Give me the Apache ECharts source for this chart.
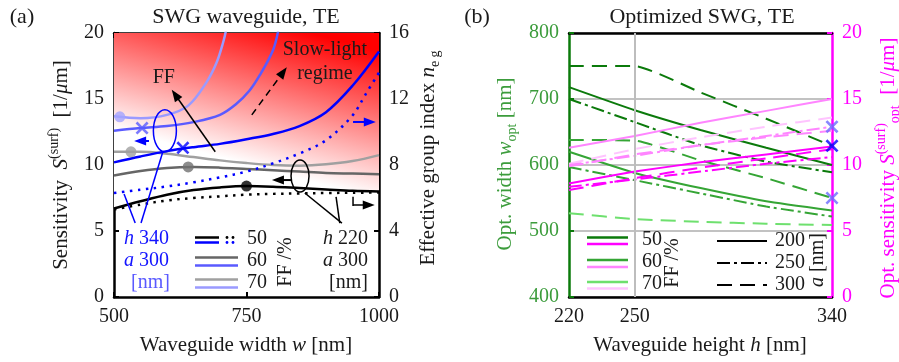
<!DOCTYPE html>
<html><head><meta charset="utf-8">
<script src="https://cdn.jsdelivr.net/npm/echarts@6/dist/echarts.min.js"></script>
<style>html,body{margin:0;padding:0;background:#fff}#c{width:899px;height:362px}</style>
</head><body><div id="c"></div>
<script>
// ---------------- DATA (a) ----------------
const widthW      = [500, 550, 600, 650, 700, 750, 800, 850, 900, 950, 1000];
const sH220FF50   = [6.7, 7.25, 7.75, 8.1, 8.3, 8.4, 8.35, 8.25, 8.15, 8.05, 8.0];
const sH220FF60   = [9.2, 9.55, 9.78, 9.85, 9.8, 9.7, 9.6, 9.5, 9.4, 9.35, 9.3];
const sH220FF70   = [11.0, 11.0, 10.85, 10.6, 10.35, 10.15, 10.0, 9.95, 10.05, 10.3, 10.75];
const nH220FF50   = [5.3, 5.6, 5.85, 6.0, 6.1, 6.2, 6.25, 6.28, 6.3, 6.32, 6.33];
const sH340FF50   = [10.2, 10.65, 11.05, 11.35, 11.6, 11.95, 12.35, 12.95, 14.0, 16.0, 18.6];
const widthNB     = [500, 550, 600, 650, 700, 750, 800, 850, 900, 950, 975, 1000];
const nH340FF50   = [6.3, 6.5, 6.7, 6.95, 7.25, 7.6, 8.1, 8.7, 9.5, 11.0, 12.3, 13.6];
const widthB60    = [500, 550, 600, 650, 700, 730, 755, 775, 800, 810];
const sH340FF60   = [12.6, 12.8, 12.95, 13.25, 13.8, 14.6, 15.6, 16.8, 18.7, 20.2];
const widthB70    = [500, 550, 600, 640, 675, 694, 706, 712];
const sH340FF70   = [13.7, 13.55, 13.8, 14.5, 16.3, 17.8, 19.3, 20.3];
// optimum markers (a)
const dotW  = [750, 640, 532, 511];
const dotS  = [8.4, 9.85, 11.0, 13.65];
const crossW = [630, 553];
const crossS = [11.3, 12.8];
// tick labels
const ticksW = [500, 750, 1000];
const ticksS = [0, 5, 10, 15, 20];
const ticksN = [0, 4, 8, 12, 16];

// ---------------- DATA (b) ----------------
const heightH      = [220, 250, 280, 310, 340];
const wOptFF50a200 = [718, 683, 653, 626, 600];
const wOptFF50a250 = [700, 665, 630, 605, 589];
const wOptFF50a300 = [750, 750, 710, 670, 629];
const wOptFF60a200 = [620, 588, 565, 545, 531];
const wOptFF60a250 = [597, 577, 557, 537, 522];
const wOptFF60a300 = [638, 637, 607, 580, 550];
const wOptFF70a300 = [527, 518, 514, 511, 509];
const sOptFF50a200 = [8.6, 9.5, 10.2, 10.8, 11.4];
const sOptFF50a250 = [8.35, 8.9, 9.5, 10.1, 10.6];
const sOptFF50a300 = [8.1, 9.0, 9.8, 10.5, 11.2];
const sOptFF60a200 = [11.3, 12.2, 13.2, 14.1, 15.0];
const sOptFF60a250 = [10.0, 10.7, 11.5, 12.2, 12.9];
const sOptFF60a300 = [9.9, 10.8, 11.5, 12.1, 12.6];
const sOptFF70a300 = [10.1, 11.2, 12.1, 12.9, 13.6];
const ticksH = [220, 250, 340];
const markH = 340;
const markW50 = 629, markW60 = 550, markS60 = 12.9;

// ---------------- STYLE ----------------
const FONT = '"Liberation Serif","Times New Roman",serif';
const TXT = '#1a1a1a';
const zip = (xs, ys) => xs.map((x, i) => [x, ys[i]]);
const crossPath = 'path://M-1,-1.4L0,-0.4L1,-1.4L1.4,-1L0.4,0L1.4,1L1,1.4L0,0.4L-1,1.4L-1.4,1L-0.4,0L-1.4,-1Z';

function lineS(name, x, y, xi, yi, color, width, type, extra) {
  return Object.assign({
    name, type: 'line', xAxisIndex: xi, yAxisIndex: yi, data: zip(x, y),
    symbol: 'none', smooth: xi === 0 ? 0.35 : 0.15, clip: true,
    lineStyle: { color, width, type: type || 'solid', cap: 'butt' }
  }, extra || {});
}
const DASH = [15, 8], DASHDOT = [13, 4, 3, 4], DOT = [2.5, 5.5];
const green1 = '#0b7a0b', green2 = '#35a535', green3 = '#6ee06e';
const mag1 = '#ff00ff', mag2 = '#ff85ff', mag3 = '#ffc4ff';

const axisLabel = { fontFamily: FONT, fontSize: 20, color: TXT, formatter: v => String(v) };

const series = [
  // (a)
  lineS('h220 FF50 S', widthW, sH220FF50, 0, 0, '#000', 2.5, 'solid', {
    areaStyle: { origin: 'end', opacity: 1,
      color: new echarts.graphic.LinearGradient(0.06, 0.57, 0.2, -0.22,
        [{ offset: 0, color: '#ffffff' }, { offset: 1, color: '#ff0000' }]) }
  }),
  lineS('h220 FF50 neg', widthW, nH220FF50, 0, 1, '#000', 2.5, DOT),
  lineS('h220 FF60 S', widthW, sH220FF60, 0, 0, '#666666', 2.5),
  lineS('h220 FF70 S', widthW, sH220FF70, 0, 0, '#a0a0a0', 2.5),
  lineS('h340 FF50 neg', widthNB, nH340FF50, 0, 1, '#0000ff', 2.5, DOT),
  lineS('h340 FF50 S', widthW, sH340FF50, 0, 0, '#0000ff', 2.5),
  lineS('h340 FF60 S', widthB60, sH340FF60, 0, 0, '#5a5aff', 2.5),
  lineS('h340 FF70 S', widthB70, sH340FF70, 0, 0, '#9a9aff', 2.5),
  { type: 'scatter', xAxisIndex: 0, yAxisIndex: 0, symbol: 'circle', symbolSize: 11,
    data: [
      { value: [dotW[0], dotS[0]], itemStyle: { color: '#000' } },
      { value: [dotW[1], dotS[1]], itemStyle: { color: '#707070' } },
      { value: [dotW[2], dotS[2]], itemStyle: { color: '#a0a0a0' } },
      { value: [dotW[3], dotS[3]], itemStyle: { color: '#a4a4ff' } }
    ], z: 5 },
  { type: 'scatter', xAxisIndex: 0, yAxisIndex: 0, symbol: crossPath, symbolSize: 13,
    data: [
      { value: [crossW[0], crossS[0]], itemStyle: { color: '#0000ff' } },
      { value: [crossW[1], crossS[1]], itemStyle: { color: '#5a5aff' } }
    ], z: 5 },
  // (b)
  lineS('w FF70 a300', heightH, wOptFF70a300, 2, 2, green3, 2, DASH, {
    markLine: { silent: true, symbol: ['none', 'none'], label: { show: false },
      lineStyle: { color: '#bdbdbd', width: 2, type: 'solid' }, data: [{ xAxis: 250 }] },
    z: 1 }),
  lineS('w FF60 a200', heightH, wOptFF60a200, 2, 2, green2, 2),
  lineS('w FF60 a250', heightH, wOptFF60a250, 2, 2, green2, 2, DASHDOT),
  lineS('w FF60 a300', heightH, wOptFF60a300, 2, 2, green2, 2, DASH),
  lineS('w FF50 a200', heightH, wOptFF50a200, 2, 2, green1, 2),
  lineS('w FF50 a250', heightH, wOptFF50a250, 2, 2, green1, 2, DASHDOT),
  lineS('w FF50 a300', heightH, wOptFF50a300, 2, 2, green1, 2, DASH),
  lineS('S FF70 a300', heightH, sOptFF70a300, 2, 3, mag3, 2, DASH),
  lineS('S FF60 a200', heightH, sOptFF60a200, 2, 3, mag2, 2),
  lineS('S FF60 a250', heightH, sOptFF60a250, 2, 3, mag2, 2, DASHDOT),
  lineS('S FF60 a300', heightH, sOptFF60a300, 2, 3, mag2, 2, DASH),
  lineS('S FF50 a200', heightH, sOptFF50a200, 2, 3, mag1, 2),
  lineS('S FF50 a250', heightH, sOptFF50a250, 2, 3, mag1, 2, DASHDOT),
  lineS('S FF50 a300', heightH, sOptFF50a300, 2, 3, mag1, 2, DASH),
  { type: 'scatter', xAxisIndex: 2, yAxisIndex: 2, symbol: crossPath, symbolSize: 13, z: 6,
    data: [
      { value: [markH, markW60], itemStyle: { color: '#6a6aff' } },
      { value: [markH, markW50], itemStyle: { color: '#0000ff' } }
    ] },
  { type: 'scatter', xAxisIndex: 2, yAxisIndex: 3, symbol: crossPath, symbolSize: 13, z: 6,
    data: [{ value: [markH, markS60], itemStyle: { color: '#6a6aff' } }] }
];

function xAx(grid, pos, min, max, interval, lineColor, showLabel, labelVals, tickVals) {
  const a = {
    gridIndex: grid, type: 'value', position: pos, min, max, interval,
    axisLine: { show: true, onZero: false, lineStyle: { color: lineColor, width: 2.5 } },
    axisTick: { show: true, inside: true, length: 5, lineStyle: { color: '#000', width: 2 } },
    axisLabel: Object.assign({ show: showLabel, margin: 10 }, axisLabel),
    splitLine: { show: false }
  };
  if (labelVals) a.axisLabel.customValues = labelVals;
  if (tickVals) a.axisTick.customValues = tickVals;
  return a;
}
function yAx(grid, pos, min, max, interval, lineColor, labelColor, tickColor, split) {
  return {
    gridIndex: grid, type: 'value', position: pos, min, max, interval,
    axisLine: { show: true, onZero: false, lineStyle: { color: lineColor, width: 2.5 } },
    axisTick: { show: true, inside: true, length: 5, lineStyle: { color: tickColor, width: 2 } },
    axisLabel: Object.assign({}, axisLabel, { color: labelColor, margin: 10 }),
    splitLine: split ? { show: true, lineStyle: { color: '#c2c2c2', width: 2 } } : { show: false }
  };
}

const option = {
  backgroundColor: '#ffffff',
  animation: false,
  grid: [
    { left: 114, top: 33, width: 265, height: 264 },
    { left: 569, top: 33, width: 263, height: 264 }
  ],
  xAxis: [
    xAx(0, 'bottom', ticksW[0], ticksW[2], ticksW[1] - ticksW[0], '#000', true),
    xAx(0, 'top', ticksW[0], ticksW[2], ticksW[1] - ticksW[0], '#000', false),
    xAx(1, 'bottom', ticksH[0], ticksH[2], 10, '#000', true, ticksH, [ticksH[1]]),
    xAx(1, 'top', ticksH[0], ticksH[2], 10, '#000', false, null, [ticksH[1]])
  ],
  yAxis: [
    yAx(0, 'left', ticksS[0], ticksS[4], ticksS[1], '#000', TXT, '#000', false),
    yAx(0, 'right', ticksN[0], ticksN[4], ticksN[1], '#000', TXT, '#000', false),
    yAx(1, 'left', 400, 800, 100, green1, '#3c9c3c', green1, true),
    yAx(1, 'right', 0, 20, 5, mag1, mag1, mag1, false)
  ],
  series
};

const chart = echarts.init(document.getElementById('c'), null, { renderer: 'canvas' });
chart.setOption(option);

// ---------------- annotations ----------------
const P = (x, y, yi) => chart.convertToPixel({ xAxisIndex: 0, yAxisIndex: yi || 0 }, [x, y]);
const G = [];
function txt(x, y, text, opt) {
  opt = opt || {};
  G.push({
    type: 'text', x, y, rotation: opt.rot || 0, z: 100,
    style: Object.assign({
      text, fill: opt.color || TXT, font: (opt.italic ? 'italic ' : '') + (opt.size || 20) + 'px ' + FONT,
      align: opt.align || 'center', verticalAlign: 'middle', rich: opt.rich
    }, opt.style || {})
  });
}
function richSet(color, size) {
  size = size || 20;
  return {
    n: { fill: color, fontFamily: FONT, fontSize: size, lineHeight: 28 },
    i: { fill: color, fontFamily: FONT, fontSize: size, fontStyle: 'italic', lineHeight: 28 },
    sup: { fill: color, fontFamily: FONT, fontSize: 14, lineHeight: 14, verticalAlign: 'top' },
    sub: { fill: color, fontFamily: FONT, fontSize: 14, lineHeight: 14, verticalAlign: 'bottom' }
  };
}
function seg(x1, y1, x2, y2, color, w, dash) {
  G.push({ type: 'line', z: 100, shape: { x1, y1, x2, y2 },
    style: { stroke: color, lineWidth: w || 1.5, lineDash: dash || null } });
}
function arrow(x1, y1, x2, y2, color, w, dash) {
  const dx = x2 - x1, dy = y2 - y1, L = Math.hypot(dx, dy), ux = dx / L, uy = dy / L;
  const hl = 12, hw = 4.5;
  const bx = x2 - ux * hl, by = y2 - uy * hl;
  seg(x1, y1, bx + ux * 2, by + uy * 2, color, w, dash);
  G.push({ type: 'polygon', z: 100, shape: { points: [[x2, y2], [bx - uy * hw, by + ux * hw], [bx + uy * hw, by - ux * hw]] },
    style: { fill: color } });
}
function ell(cx, cy, rx, ry, color) {
  G.push({ type: 'ellipse', z: 100, shape: { cx, cy, rx, ry }, style: { fill: null, stroke: color, lineWidth: 1.5 } });
}

// panel labels and titles
txt(22, 17, '(a)', { size: 22 });
txt(477, 17, '(b)', { size: 22 });
txt(246, 17, 'SWG waveguide, TE', { size: 22 });
txt(702, 17, 'Optimized SWG, TE', { size: 22 });
// axis titles (a)
txt(246, 345, '{n|Waveguide width }{i|w}{n| [nm]}', { rich: richSet(TXT, 21) });
txt(61, 165, '{n|Sensitivity  }{i|S}{sup|(surf)}{n|  [1/}{i|μ}{n|m]}', { rot: Math.PI / 2, rich: richSet(TXT, 21) });
txt(428, 158, '{n|Effective group index }{i|n}{sub|e g}', { rot: Math.PI / 2, rich: richSet(TXT, 21) });
// axis titles (b)
txt(700, 345, '{n|Waveguide height }{i|h}{n| [nm]}', { rich: richSet(TXT, 21) });
txt(505, 164, '{n|Opt. width }{i|w}{sub|opt}{n| [nm]}', { rot: Math.PI / 2, rich: richSet('#3c9c3c', 21) });
txt(888, 168, '{n|Opt. sensitivity }{i|S}{sup|(surf)}{sub|opt}{n|  [1/}{i|μ}{n|m]}', { rot: Math.PI / 2, rich: richSet(mag1, 21) });

// (a) annotations in data coordinates
let a = P(594, 16.6); txt(a[0], a[1], 'FF');
let t = P(691, 11.0), h = P(609, 15.7); arrow(t[0], t[1], h[0], h[1], '#000', 1.5);
t = P(760, 13.8); h = P(826, 17.4); arrow(t[0], t[1], h[0], h[1], '#000', 1.5, [7, 5]);
a = P(898, 18.7); txt(a[0], a[1], 'Slow-light');
a = P(898, 16.9); txt(a[0], a[1], 'regime');
a = P(596, 12.6); ell(a[0], a[1], 11.5, 21, '#0000ff');
t = P(592, 10.98); h = P(551, 5.6); seg(t[0], t[1], h[0], h[1], '#0000ff', 1.5);
t = P(519, 7.8); h = P(540, 5.6); seg(t[0], t[1], h[0], h[1], '#0000ff', 1.5);
t = P(566, 11.82); h = P(538, 11.82); arrow(t[0], t[1], h[0], h[1], '#0000ff', 2);
t = P(951, 13.26); h = P(994, 13.26); arrow(t[0], t[1], h[0], h[1], '#0000ff', 2);
a = P(851, 9.17); ell(a[0], a[1], 9, 16, '#000');
t = P(860, 7.88); h = P(930, 5.6); seg(t[0], t[1], h[0], h[1], '#000', 1.5);
t = P(919, 7.58); h = P(926, 5.6); seg(t[0], t[1], h[0], h[1], '#000', 1.5);
t = P(834, 8.86); h = P(798, 8.86); arrow(t[0], t[1], h[0], h[1], '#000', 2);
t = P(951, 7.6); h = P(951, 6.97); seg(t[0], t[1], h[0], h[1] + 1, '#000', 1.5);
t = P(951, 6.97); h = P(992, 6.97); arrow(t[0], t[1], h[0], h[1], '#000', 1.5);

// (a) legend
txt(169, 239, '{i|h}{n| 340}', { align: 'right', rich: richSet('#1414ff') });
txt(169, 261, '{i|a}{n| 300}', { align: 'right', rich: richSet('#1414ff') });
txt(170, 283, '[nm]', { align: 'right', color: '#5a5aff' });
txt(368, 239, '{i|h}{n| 220}', { align: 'right', rich: richSet(TXT) });
txt(368, 261, '{i|a}{n| 300}', { align: 'right', rich: richSet(TXT) });
txt(368, 283, '[nm]', { align: 'right' });
txt(257, 239, '50'); txt(257, 261, '60'); txt(257, 283, '70');
txt(286, 262, 'FF /%', { rot: Math.PI / 2 });
seg(195, 237.5, 219, 237.5, '#000', 2.5); seg(195, 242.5, 219, 242.5, '#0000ff', 2.5);
[227, 233].forEach(x => {
  G.push({ type: 'circle', z: 100, shape: { cx: x, cy: 237.5, r: 1.4 }, style: { fill: '#000' } });
  G.push({ type: 'circle', z: 100, shape: { cx: x, cy: 242.5, r: 1.4 }, style: { fill: '#0000ff' } });
});
seg(195, 257.5, 238, 257.5, '#666666', 2.5); seg(195, 265.5, 238, 265.5, '#5a5aff', 2.5);
seg(195, 279.5, 238, 279.5, '#a0a0a0', 2.5); seg(195, 287.5, 238, 287.5, '#9a9aff', 2.5);

// (b) legend
seg(587, 237.5, 628, 237.5, green1, 2.5); seg(587, 244, 628, 244, mag1, 2.5);
seg(587, 260, 628, 260, green2, 2.5); seg(587, 267, 628, 267, mag2, 2.5);
seg(587, 282, 628, 282, green3, 2.5); seg(587, 288.5, 628, 288.5, mag3, 2.5);
txt(652, 240, '50'); txt(652, 262, '60'); txt(652, 284, '70');
txt(673, 263, 'FF /%', { rot: Math.PI / 2 });
seg(717, 241, 767, 241, '#000', 2);
seg(717, 263, 767, 263, '#000', 2, DASHDOT);
seg(717, 285, 767, 285, '#000', 2, DASH);
txt(790, 241, '200'); txt(790, 263, '250'); txt(790, 285, '300');
txt(818, 260, '{i|a}{n| [nm]}', { rot: Math.PI / 2, rich: richSet(TXT) });

chart.setOption({ graphic: { elements: G } });
</script>
</body></html>
